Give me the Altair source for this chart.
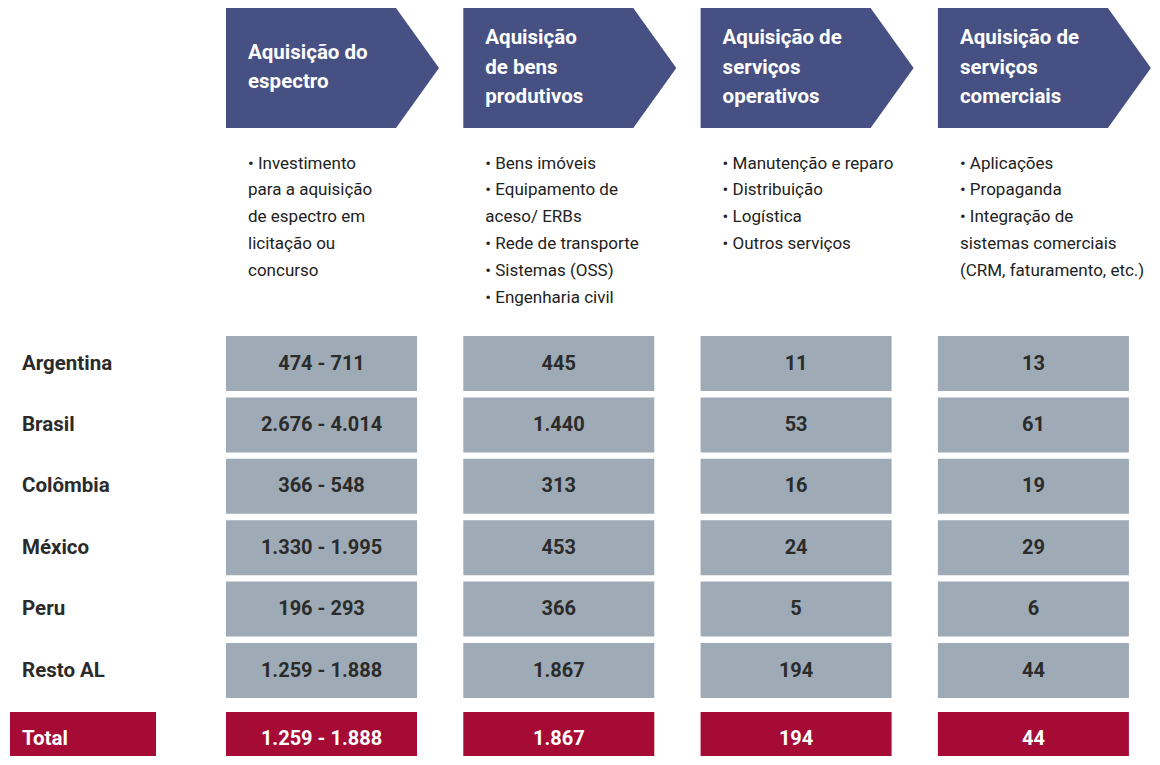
import altair as alt
import pandas as pd

# ---------------- data ----------------
header_lines = [
    ["Aquisição do", "espectro"],
    ["Aquisição", "de bens", "produtivos"],
    ["Aquisição de", "serviços", "operativos"],
    ["Aquisição de", "serviços", "comerciais"],
]
desc_lines = [
    ["• Investimento", "para a aquisição", "de espectro em", "licitação ou", "concurso"],
    ["• Bens imóveis", "• Equipamento de", "aceso/ ERBs", "• Rede de transporte",
     "• Sistemas (OSS)", "• Engenharia civil"],
    ["• Manutenção e reparo", "• Distribuição", "• Logística", "• Outros serviços"],
    ["• Aplicações", "• Propaganda", "• Integração de", "sistemas comerciais",
     "(CRM, faturamento, etc.)"],
]
countries = ["Argentina", "Brasil", "Colômbia", "México", "Peru", "Resto AL"]
espectro = ["474 - 711", "2.676 - 4.014", "366 - 548", "1.330 - 1.995", "196 - 293", "1.259 - 1.888"]
bens = ["445", "1.440", "313", "453", "366", "1.867"]
operativos = ["11", "53", "16", "24", "5", "194"]
comerciais = ["13", "61", "19", "29", "6", "44"]
total_label = "Total"
totals = ["1.259 - 1.888", "1.867", "194", "44"]

# ---------------- layout (page pixel coordinates) ----------------
W, H = 1144, 748
COL_LEFT0, COL_PITCH, CELL_W = 226, 237.3, 191
HEAD_TOP, HEAD_BOT, HEAD_BODY, HEAD_TIP = 8, 128, 170, 213
ROW_TOP0, ROW_PITCH, CELL_H = 336, 61.4, 55
TOTAL_TOP, TOTAL_H = 712, 53

NAVY = "#465082"
GRAY = "#9eabb7"
RED = "#a50b35"
DARK = "#2b2b2b"
FONT = "Roboto"

def col_left(c):
    return COL_LEFT0 + c * COL_PITCH

mid = (HEAD_TOP + HEAD_BOT) / 2

# header arrows as single area polygons
arrow_rows = []
for c in range(4):
    L = col_left(c)
    arrow_rows += [
        dict(col=c, x=L, y=HEAD_TOP, y2=HEAD_BOT),
        dict(col=c, x=L + HEAD_BODY, y=HEAD_TOP, y2=HEAD_BOT),
        dict(col=c, x=L + HEAD_TIP, y=mid, y2=mid),
    ]
arrows_df = pd.DataFrame(arrow_rows)

head_text = []
for c, lines in enumerate(header_lines):
    n = len(lines)
    for i, t in enumerate(lines):
        head_text.append(dict(x=col_left(c) + 22, y=mid - 0.5 + (i - (n - 1) / 2) * 29.7, t=t))
head_df = pd.DataFrame(head_text)

desc_text = []
for c, lines in enumerate(desc_lines):
    for i, t in enumerate(lines):
        desc_text.append(dict(x=col_left(c) + 22, y=163.5 + i * 26.8, t=t))
desc_df = pd.DataFrame(desc_text)

cols_values = [espectro, bens, operativos, comerciais]
cell_rows, label_rows = [], []
for r, name in enumerate(countries):
    top = ROW_TOP0 + r * ROW_PITCH
    label_rows.append(dict(x=22, y=top + CELL_H / 2, t=name, kind="row"))
    for c in range(4):
        L = col_left(c)
        cell_rows.append(dict(x=L, x2=L + CELL_W, y=top, y2=top + CELL_H,
                              xc=L + CELL_W / 2, yc=top + CELL_H / 2,
                              t=cols_values[c][r], kind="row"))
for c in range(4):
    L = col_left(c)
    cell_rows.append(dict(x=L, x2=L + CELL_W, y=TOTAL_TOP, y2=TOTAL_TOP + TOTAL_H,
                          xc=L + CELL_W / 2, yc=TOTAL_TOP + TOTAL_H / 2,
                          t=totals[c], kind="total"))
cell_rows.append(dict(x=10, x2=156, y=TOTAL_TOP, y2=TOTAL_TOP + TOTAL_H,
                      xc=22, yc=TOTAL_TOP + TOTAL_H / 2, t="", kind="total"))
label_rows.append(dict(x=22, y=TOTAL_TOP + TOTAL_H / 2, t=total_label, kind="total"))
cells_df = pd.DataFrame(cell_rows)
labels_df = pd.DataFrame(label_rows)

xs = alt.Scale(domain=[8, 8 + W], nice=False, zero=False)
ys = alt.Scale(domain=[8, 8 + H], nice=False, zero=False, reverse=True)

arrows = alt.Chart(arrows_df).mark_area(color=NAVY, orient="vertical", interpolate="linear").encode(
    x=alt.X("x:Q", scale=xs, axis=None),
    y=alt.Y("y:Q", scale=ys, axis=None, stack=None),
    y2="y2:Q",
    detail="col:N",
)

head = alt.Chart(head_df).mark_text(
    align="left", baseline="middle", font=FONT, fontSize=20.5, fontWeight="bold", color="white"
).encode(x=alt.X("x:Q", scale=xs, axis=None), y=alt.Y("y:Q", scale=ys, axis=None), text="t:N")

desc = alt.Chart(desc_df).mark_text(
    align="left", baseline="middle", font=FONT, fontSize=17, color="#222222"
).encode(x=alt.X("x:Q", scale=xs, axis=None), y=alt.Y("y:Q", scale=ys, axis=None), text="t:N")

cells = alt.Chart(cells_df).mark_rect(clip=True).encode(
    x=alt.X("x:Q", scale=xs, axis=None), x2="x2:Q",
    y=alt.Y("y:Q", scale=ys, axis=None), y2="y2:Q",
    color=alt.Color("kind:N", scale=alt.Scale(domain=["row", "total"], range=[GRAY, RED]), legend=None),
)

cell_text = alt.Chart(cells_df).mark_text(
    align="center", baseline="middle", font=FONT, fontSize=20, fontWeight="bold"
).encode(
    x=alt.X("xc:Q", scale=xs, axis=None), y=alt.Y("yc:Q", scale=ys, axis=None), text="t:N",
    color=alt.Color("kind:N", scale=alt.Scale(domain=["row", "total"], range=[DARK, "white"]), legend=None),
)

labels = alt.Chart(labels_df).mark_text(
    align="left", baseline="middle", font=FONT, fontSize=20.5, fontWeight="bold"
).encode(
    x=alt.X("x:Q", scale=xs, axis=None), y=alt.Y("y:Q", scale=ys, axis=None), text="t:N",
    color=alt.Color("kind:N", scale=alt.Scale(domain=["row", "total"], range=[DARK, "white"]), legend=None),
)

chart = alt.layer(arrows, head, desc, cells, cell_text, labels).resolve_scale(
    color="independent"
).properties(
    width=W, height=H, padding=0,
    autosize=alt.AutoSizeParams(type="fit", contains="padding"),
).configure_view(stroke=None)

chart.save("out.html", embed_options={"renderer": "svg", "actions": False})
